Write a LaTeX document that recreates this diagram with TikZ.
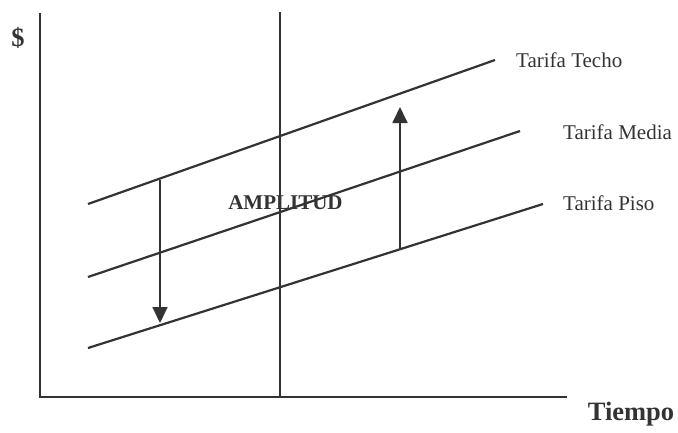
\documentclass[tikz,border=0pt]{standalone}
\usepackage{fontspec}
\setmainfont{Liberation Serif}
\usetikzlibrary{arrows.meta}
\definecolor{ink}{HTML}{333333}
\tikzset{
  axisline/.style={draw=ink, line width=2.2pt},
  rateline/.style={draw=ink, line width=2.2pt},
  amparrow/.style={draw=ink, line width=1.8pt, -{Triangle[length=16pt,width=15pt]}},
  lbl/.style={inner sep=0pt, text=ink, font=\fontsize{21}{24}\selectfont},
  boldlbl/.style={inner sep=0pt, text=ink, font=\fontsize{21}{24}\selectfont\bfseries},
  biglbl/.style={inner sep=0pt, text=ink, font=\fontsize{26.5}{30}\selectfont\bfseries},
}
\begin{document}
\begin{tikzpicture}[x=1pt,y=-1pt]
\useasboundingbox (0,0) rectangle (678,432);
% axes
\coordinate (ytop) at (40,13);
\coordinate (origin) at (40,397);
\coordinate (xend) at (567,397);
\coordinate (vtop) at (280,12);
\coordinate (vbot) at (280,397);
\draw[axisline] (ytop) -- (origin) -- (xend);
\draw[axisline] (vtop) -- (vbot);
% rate lines
\coordinate (t0) at (88,204);
\coordinate (t1) at (495,60);
\coordinate (m0) at (88,277);
\coordinate (m1) at (520,131);
\coordinate (p0) at (88,348);
\coordinate (p1) at (543,204);
\draw[rateline] (t0) -- (t1);
\draw[rateline] (m0) -- (m1);
\draw[rateline] (p0) -- (p1);
% arrows
\coordinate (dA) at (160,179.5);
\coordinate (dB) at (160,323);
\coordinate (uA) at (400,249.5);
\coordinate (uB) at (400,107);
\draw[amparrow] (dA) -- (dB);
\draw[amparrow] (uA) -- (uB);
% labels
\node[lbl, anchor=base west] (techo) at (516,67) {Tarifa Techo};
\node[lbl, anchor=base west] (media) at (563,139) {Tarifa Media};
\node[lbl, anchor=base west] (piso) at (563,210) {Tarifa Piso};
\node[boldlbl, anchor=base] (amp) at (285.5,209) {AMPLITUD};
\node[biglbl, anchor=base] (dollar) at (18,46) {\$};
\node[biglbl, anchor=base] (tiempo) at (631,420) {Tiempo};
\end{tikzpicture}
\end{document}
